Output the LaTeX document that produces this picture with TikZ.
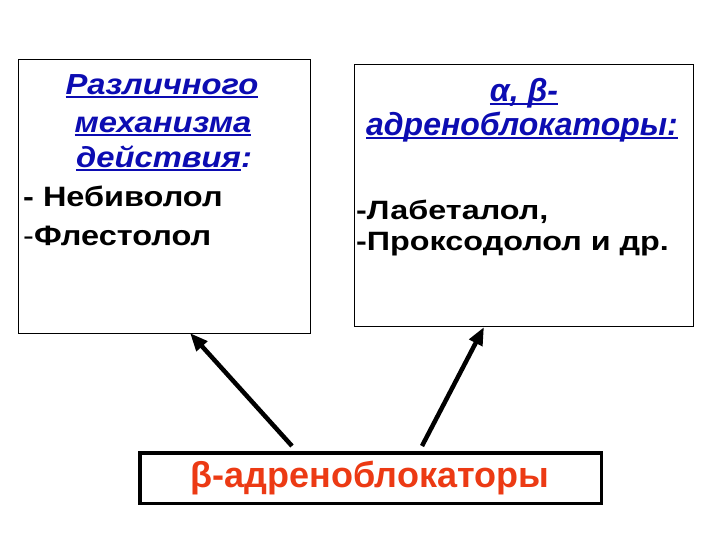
\documentclass[tikz,border=0pt]{standalone}
\usepackage{fontspec}
\setmainfont{Liberation Sans}
\newfontfamily\widefont[FakeStretch=1.16]{Liberation Sans}
\newfontfamily\widerfont[FakeStretch=1.22]{Liberation Sans}
\newfontfamily\medfont[FakeStretch=1.13]{Liberation Sans}
\usetikzlibrary{arrows.meta}
\definecolor{hblue}{RGB}{12,12,178}
\definecolor{bred}{RGB}{236,58,20}
\newsavebox\ulbox
\newcommand\ulx[1]{\sbox\ulbox{#1}\rlap{\rule[-3pt]{\wd\ulbox}{2pt}}\usebox\ulbox}
\tikzset{
  box/.style={draw=black, line width=1pt, fill=white, minimum width=#1},
  head/.style={inner sep=0pt, anchor=base, text=hblue, font=\medfont\fontsize{29}{32}\selectfont\bfseries\itshape},
  headr/.style={inner sep=0pt, anchor=base, text=hblue, font=\fontsize{32}{35}\selectfont\bfseries\itshape},
  item/.style={inner sep=0pt, anchor=base west, text=black, font=\widefont\fontsize{28}{30}\selectfont\bfseries},
  itemr/.style={inner sep=0pt, anchor=base west, text=black, font=\widerfont\fontsize{26.5}{30}\selectfont\bfseries},
  arr/.style={line width=4.5pt, -{Triangle[length=18pt,width=14pt]}}
}
\begin{document}
\begin{tikzpicture}[x=1pt,y=-1pt]
\useasboundingbox (0,0) rectangle (720,540);
\fill[white] (0,0) rectangle (720,540);
% boxes
\node[box=292pt, minimum height=273pt] (L) at (164,196.5) {};
\node[box=339pt, minimum height=261pt] (R) at (523.5,195.5) {};
\node[draw=black, line width=3.5pt, fill=white, minimum width=461.5pt, minimum height=50.5pt] (B) at (370.5,478) {};
% left box text
\node[head] (l1) at (162,95) {\ulx{Различного}};
\node[head] (l2) at (163,133) {\ulx{механизма}};
\node[head] (l3) at (164,168) {\ulx{действия}:};
\node[item] (l4) at (23,207) {- Небиволол};
\node[item] (l5) at (23,245) {{\mdseries -}Флестолол};
% right box text
\node[headr] (r1) at (524,102) {\ulx{α, β-}};
\node[headr] (r2) at (522,136) {\ulx{адреноблокаторы:}};
\node[itemr] (r3) at (356,220) {-Лабеталол,};
\node[itemr] (r4) at (356,250) {-Проксодолол и др.};
% bottom text
\node[inner sep=0pt, anchor=base, text=bred, font=\fontsize{36}{40}\selectfont\bfseries] (b1) at (370,487) {β-адреноблокаторы};
% arrows
\coordinate (s1) at (292,446);
\coordinate (t1) at (190,333);
\coordinate (s2) at (422,446);
\coordinate (t2) at (484,327);
\draw[arr] (s1) -- (t1);
\draw[arr] (s2) -- (t2);
\end{tikzpicture}
\end{document}
